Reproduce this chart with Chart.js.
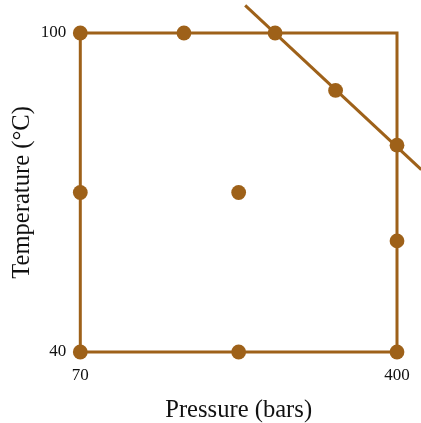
<!DOCTYPE html>
<html>
<head>
<meta charset="utf-8">
<script src="https://cdn.jsdelivr.net/npm/chart.js@4/dist/chart.umd.min.js"></script>
<style>
  html, body { margin: 0; padding: 0; background: #fff; }
  canvas { display: block; }
</style>
</head>
<body>
<canvas id="myChart" width="421" height="423"></canvas>
<script>
// experiment design points (pressure in bars, temperature in °C)
const designPressure = [70, 178, 273, 336, 400, 70, 235, 400, 70, 235, 400];
const designTemp = [100, 100, 100, 89.2, 78.9, 70, 70, 60.9, 40, 40, 40];

// operating region outline
const boxPressure = [70, 70, 400, 400, 70];
const boxTemp = [40, 100, 100, 40, 40];

// constraint line cutting the top right corner
const limitPressure = [241.8, 425.3];
const limitTemp = [105.2, 74.3];

const xTicks = [70, 400];
const yTicks = [40, 100];

const brown = '#9E6119';
const serif = '"Liberation Serif", "Times New Roman", serif';
const ctx = document.getElementById('myChart');

const toPoints = (xs, ys) => xs.map((x, i) => ({ x: x, y: ys[i] }));

new Chart(ctx, {
  type: 'scatter',
  data: {
    datasets: [
      {
        type: 'line',
        data: toPoints(boxPressure, boxTemp),
        borderColor: brown,
        borderWidth: 3,
        borderJoinStyle: 'miter',
        pointRadius: 0,
        fill: false,
        clip: false,
        order: 3
      },
      {
        type: 'line',
        data: toPoints(limitPressure, limitTemp),
        borderColor: brown,
        borderWidth: 3,
        pointRadius: 0,
        fill: false,
        clip: false,
        order: 2
      },
      {
        data: toPoints(designPressure, designTemp),
        backgroundColor: brown,
        borderWidth: 0,
        pointRadius: 7.4,
        clip: false,
        order: 1
      }
    ]
  },
  options: {
    responsive: false,
    animation: false,
    devicePixelRatio: 1,
    layout: { padding: { left: 0, top: 33, right: 24, bottom: 0 } },
    plugins: { legend: { display: false }, tooltip: { enabled: false } },
    scales: {
      x: {
        type: 'linear',
        min: 70,
        max: 400,
        afterBuildTicks: (scale) => { scale.ticks = xTicks.map(v => ({ value: v })); },
        afterFit: (scale) => { scale.height = 71; },
        grid: { display: false },
        border: { display: false },
        ticks: {
          color: '#111',
          padding: 5,
          maxRotation: 0,
          font: { family: serif, size: 17 }
        },
        title: {
          display: true,
          text: 'Pressure (bars)',
          color: '#111',
          padding: { top: 0, bottom: -2 },
          font: { family: serif, size: 24.6 }
        }
      },
      y: {
        type: 'linear',
        min: 40,
        max: 100,
        afterBuildTicks: (scale) => { scale.ticks = yTicks.map(v => ({ value: v })); },
        afterFit: (scale) => { scale.width = 80.3; },
        grid: { display: false },
        border: { display: false },
        ticks: {
          color: '#111',
          padding: 6,
          font: { family: serif, size: 17 }
        },
        title: {
          display: true,
          text: 'Temperature (°C)',
          color: '#111',
          padding: { top: 8, bottom: 0 },
          font: { family: serif, size: 24.6 }
        }
      }
    }
  }
});
</script>
</body>
</html>
